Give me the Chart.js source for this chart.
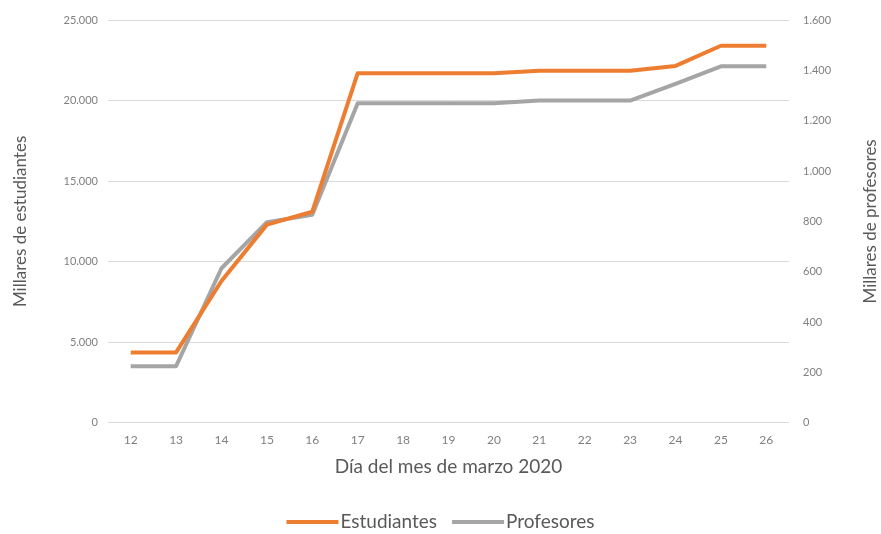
<!DOCTYPE html>
<html>
<head>
<meta charset="utf-8">
<script src="https://cdn.jsdelivr.net/npm/chart.js@4"></script>
<style>
  html, body { margin: 0; padding: 0; background: #fff; }
  #wrap { width: 881px; height: 534px; }
</style>
</head>
<body>
<div id="wrap"><canvas id="chart" width="881" height="534"></canvas></div>
<script>
const dias = ['12','13','14','15','16','17','18','19','20','21','22','23','24','25','26'];
// miles de estudiantes (eje izquierdo)
const estudiantes = [4370, 4370, 8800, 12300, 13100, 21700, 21700, 21700, 21700, 21850, 21850, 21850, 22150, 23400, 23400];
// miles de profesores (eje derecho)
const profesores = [225, 225, 614, 797, 826, 1269, 1269, 1269, 1269, 1280, 1280, 1280, 1346, 1416, 1416];

const FONT = 'Lato, "Liberation Sans", sans-serif';
const TITULO_DCHA = 'Millares de profesores';

function miles(v) {
  return String(Math.round(v)).replace(/\B(?=(\d{3})+(?!\d))/g, '.');
}

// título del eje derecho (de abajo arriba) y leyenda tipo Excel: línea pegada al texto
const extras = {
  id: 'extras',
  afterDraw(c) {
    const { ctx, chartArea: { top, bottom } } = c;
    ctx.save();
    ctx.translate(c.width - 10, (top + bottom) / 2);
    ctx.rotate(-Math.PI / 2);
    ctx.fillStyle = '#595959';
    ctx.font = '17px ' + FONT;
    ctx.textAlign = 'center';
    ctx.textBaseline = 'middle';
    ctx.fillText(TITULO_DCHA, 0, 0);
    ctx.restore();

    ctx.save();
    ctx.font = '19px ' + FONT;
    ctx.textBaseline = 'middle';
    const lineLen = 52, gapText = 2, gapItem = 15, y = 522;
    const items = c.data.datasets.map(ds => ({
      label: ds.label, color: ds.borderColor, w: lineLen + gapText + ctx.measureText(ds.label).width
    }));
    const total = items.reduce((s, it) => s + it.w, 0) + gapItem * (items.length - 1);
    let x = (c.width - total) / 2;
    items.forEach(it => {
      ctx.strokeStyle = it.color;
      ctx.lineWidth = 4;
      ctx.beginPath();
      ctx.moveTo(x, y);
      ctx.lineTo(x + lineLen, y);
      ctx.stroke();
      ctx.fillStyle = '#595959';
      ctx.fillText(it.label, x + lineLen + gapText, y);
      x += it.w + gapItem;
    });
    ctx.restore();
  }
};

const ctx = document.getElementById('chart').getContext('2d');
new Chart(ctx, {
  type: 'line',
  data: {
    labels: dias,
    datasets: [
      {
        label: 'Estudiantes',
        data: estudiantes,
        yAxisID: 'y',
        borderColor: '#ED7D31',
        backgroundColor: '#ED7D31',
        borderWidth: 4,
        pointRadius: 0,
        tension: 0,
        borderJoinStyle: 'round'
      },
      {
        label: 'Profesores',
        data: profesores,
        yAxisID: 'y1',
        borderColor: '#A5A5A5',
        backgroundColor: '#A5A5A5',
        borderWidth: 4,
        pointRadius: 0,
        tension: 0,
        borderJoinStyle: 'round'
      }
    ]
  },
  options: {
    responsive: false,
    animation: false,
    layout: { padding: { top: 20, left: 6, right: 0, bottom: 0 } },
    scales: {
      x: {
        offset: true,
        grid: { display: false },
        border: { display: false },
        ticks: { color: '#7f7f7f', font: { family: FONT, size: 12 }, padding: 2 },
        title: { display: true, text: 'Día del mes de marzo 2020', color: '#595959',
                 font: { family: FONT, size: 19 }, padding: { top: 6, bottom: 56 } }
      },
      y: {
        position: 'left',
        min: 0, max: 25000,
        grid: { color: '#D9D9D9', lineWidth: 1, drawTicks: false },
        border: { display: false },
        ticks: { stepSize: 5000, color: '#7f7f7f', font: { family: FONT, size: 11 }, padding: 10,
                 callback: v => miles(v) },
        title: { display: true, text: 'Millares de estudiantes', color: '#595959',
                 font: { family: FONT, size: 17 } },
        afterFit(s) { s.width = 102; }
      },
      y1: {
        position: 'right',
        min: 0, max: 1600,
        grid: { display: false },
        border: { display: false },
        ticks: { stepSize: 200, color: '#7f7f7f', font: { family: FONT, size: 11 }, padding: 6,
                 callback: v => miles(v) },
        title: { display: false },
        afterFit(s) { s.width = 92; }
      }
    },
    plugins: {
      tooltip: { enabled: false },
      legend: { display: false }
    }
  },
  plugins: [extras]
});
</script>
</body>
</html>
